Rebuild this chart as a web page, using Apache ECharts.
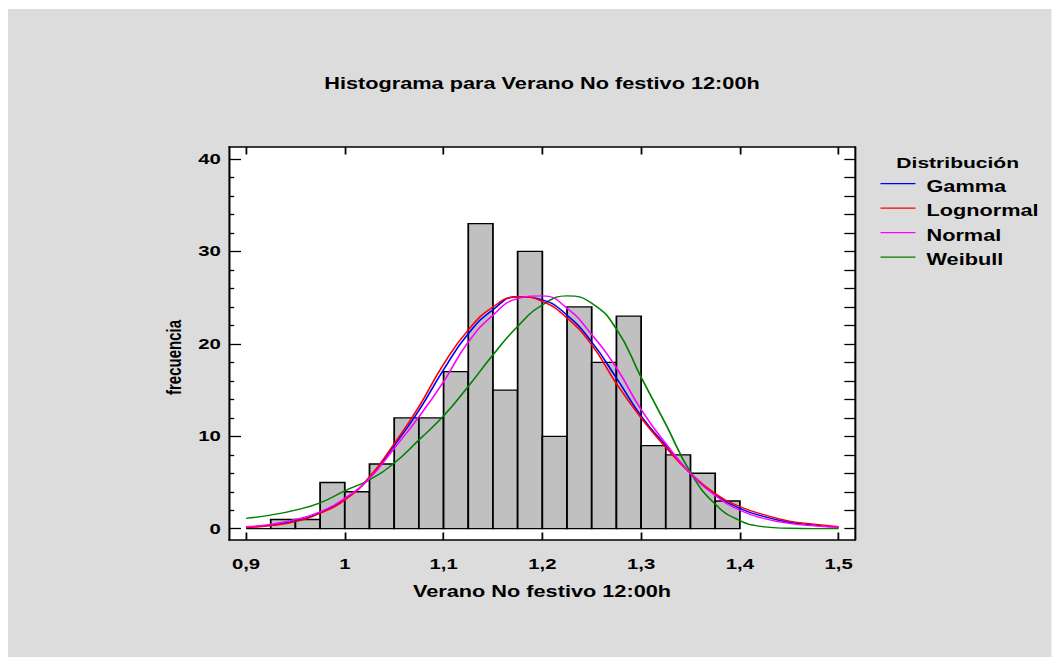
<!DOCTYPE html>
<html>
<head>
<meta charset="utf-8">
<script src="https://cdn.jsdelivr.net/npm/echarts@6/dist/echarts.min.js"></script>
<style>
  html, body { margin: 0; padding: 0; background: #ffffff; overflow: hidden; }
  #wrap { width: 1059px; height: 666px; overflow: hidden; }
  /* chart is laid out on a 780px wide page and stretched to the 1059px window */
  #chart { width: 780px; height: 666px; transform: scaleX(1.3576923); transform-origin: 0 0; }
</style>
</head>
<body>
<div id="wrap"><div id="chart"></div></div>
<script>
// Histogram bins (lower / upper edges) and observed frequencies
const binLo  = [0.900, 0.925, 0.950, 0.975, 1.000, 1.025, 1.050, 1.075, 1.100, 1.125,
                1.150, 1.175, 1.200, 1.225, 1.250, 1.275, 1.300, 1.325, 1.350, 1.375];
const binHi  = [0.925, 0.950, 0.975, 1.000, 1.025, 1.050, 1.075, 1.100, 1.125, 1.150,
                1.175, 1.200, 1.225, 1.250, 1.275, 1.300, 1.325, 1.350, 1.375, 1.400];
const counts = [0, 1, 1, 5, 4, 7, 12, 12, 17, 33, 15, 30, 10, 24, 18, 23, 9, 8, 6, 3];

// Fitted distributions, expressed as expected frequency per bin
const curveX = [0.900, 0.925, 0.950, 0.975, 1.000, 1.025, 1.050, 1.075, 1.100, 1.125,
                1.150, 1.175, 1.200, 1.225, 1.250, 1.275, 1.300, 1.325, 1.350, 1.375,
                1.400, 1.425, 1.450, 1.475, 1.500];
const gammaFit     = [0.18, 0.40, 0.85, 1.75, 3.2, 5.5, 9.0, 12.8, 17.2, 21.1, 23.7, 25.1, 24.75,
                      23.1, 20.2, 16.3, 12.2, 9.0, 6.0, 3.7, 2.2, 1.3, 0.70, 0.40, 0.14];
const lognormalFit = [0.11, 0.33, 0.76, 1.67, 3.1, 5.6, 9.2, 13.2, 17.8, 21.5, 24.0, 25.1, 24.6,
                      22.8, 19.9, 15.7, 12.0, 8.8, 6.0, 3.8, 2.4, 1.5, 0.83, 0.50, 0.22];
const normalFit    = [0.22, 0.47, 1.0, 1.84, 3.3, 5.45, 8.7, 12.1, 15.9, 20.2, 23.1, 24.9, 25.2,
                      23.85, 21.0, 17.4, 12.9, 9.2, 6.0, 3.6, 2.0, 1.1, 0.58, 0.30, 0.14];
const weibullFit   = [1.12, 1.48, 2.02, 2.8, 4.1, 5.3, 7.1, 9.6, 12.2, 15.4, 18.8, 21.9, 24.2,
                      25.2, 24.4, 21.6, 16.4, 11.3, 6.1, 2.65, 0.88, 0.21, 0.05, 0.0, 0.0];

const distNames  = ['Gamma', 'Lognormal', 'Normal', 'Weibull'];
const distColors = ['#0000ff', '#ff0000', '#ff00ff', '#008000'];
const distData   = [gammaFit, lognormalFit, normalFit, weibullFit];

const xTicks = [0.9, 1.0, 1.1, 1.2, 1.3, 1.4, 1.5];
const yMajor = [0, 10, 20, 30, 40];
const yMinor = [2, 4, 6, 8, 12, 14, 16, 18, 22, 24, 26, 28, 32, 34, 36, 38];
const yAll   = [0, 2, 4, 6, 8, 10, 12, 14, 16, 18, 20, 22, 24, 26, 28, 30, 32, 34, 36, 38, 40];

const titleText = 'Histograma para Verano No festivo 12:00h';
const xName = 'Verano No festivo 12:00h';
const yName = 'frecuencia';
const legendTitle = 'Distribución';

const FONT = '"Liberation Sans", Arial, Helvetica, sans-serif';
const X_MIN = 0.8828, X_MAX = 1.5165, Y_MIN = -1.22, Y_MAX = 41.3;
const AX = { color: '#000', width: 1.5 };

const chart = echarts.init(document.getElementById('chart'), null, { renderer: 'svg', width: 780, height: 666 });

const histData = binLo.map((lo, i) => [lo, binHi[i], counts[i]]);

const lineSeries = distNames.map((name, k) => ({
  name: name,
  type: 'line',
  data: curveX.map((x, i) => [x, distData[k][i]]),
  smooth: 0.5,
  showSymbol: false,
  symbol: 'none',
  clip: true,
  z: 3 + (k === 3 ? 0 : k + 1),
  lineStyle: { color: distColors[k], width: 1.3 },
  itemStyle: { color: distColors[k] },
  emphasis: { disabled: true },
  silent: true
}));

// legend drawn at the right of the frame
const legendGraphics = [{
  type: 'text', x: 705.4, y: 162.5, silent: true,
  style: { text: legendTitle, font: 'bold 15.5px ' + FONT, fill: '#000', textAlign: 'center', textVerticalAlign: 'middle' }
}];
distNames.forEach((name, k) => {
  const ly = 183.7 + k * 24.5;
  legendGraphics.push({
    type: 'line', silent: true,
    shape: { x1: 648.5, y1: ly, x2: 674.3, y2: ly },
    style: { stroke: distColors[k], lineWidth: 1.2 }
  });
  legendGraphics.push({
    type: 'text', x: 682.4, y: ly + 2.6, silent: true,
    style: { text: name, font: 'bold 16px ' + FONT, fill: '#000', textAlign: 'left', textVerticalAlign: 'middle' }
  });
});

const option = {
  animation: false,
  backgroundColor: '#ffffff',
  textStyle: { fontFamily: FONT },
  grid: { left: 168.7, right: 150.3, top: 147, bottom: 126, show: true, backgroundColor: '#ffffff', borderWidth: 0 },
  xAxis: [
    {
      type: 'value', position: 'bottom', min: X_MIN, max: X_MAX,
      axisLine: { show: true, onZero: false, lineStyle: AX },
      axisTick: { show: true, inside: true, length: 7.5, customValues: xTicks, lineStyle: { color: '#000', width: 1.3 } },
      axisLabel: {
        show: true, customValues: xTicks, margin: 16,
        fontSize: 15, fontWeight: 'bold', color: '#000', fontFamily: FONT,
        formatter: v => String(+v.toFixed(2)).replace('.', ',')
      },
      splitLine: { show: false }
    },
    {
      type: 'value', position: 'top', min: X_MIN, max: X_MAX,
      axisLine: { show: true, onZero: false, lineStyle: AX },
      axisTick: { show: true, inside: true, length: 7.5, customValues: xTicks, lineStyle: { color: '#000', width: 1.3 } },
      axisLabel: { show: false },
      splitLine: { show: false }
    }
  ],
  yAxis: [
    {
      type: 'value', position: 'left', min: Y_MIN, max: Y_MAX,
      axisLine: { show: true, onZero: false, lineStyle: AX },
      axisTick: { show: true, inside: true, length: 8.8, customValues: yMajor, lineStyle: { color: '#000', width: 1.3 } },
      axisLabel: {
        show: true, customValues: yMajor, margin: 6,
        fontSize: 15, fontWeight: 'bold', color: '#000', fontFamily: FONT,
        padding: [5, 0, 0, 0]
      },
      splitLine: { show: false }
    },
    {
      type: 'value', position: 'left', min: Y_MIN, max: Y_MAX,
      axisLine: { show: false },
      axisTick: { show: true, inside: true, length: 3.8, customValues: yMinor, lineStyle: { color: '#000', width: 1.3 } },
      axisLabel: { show: false },
      splitLine: { show: false }
    },
    {
      type: 'value', position: 'right', min: Y_MIN, max: Y_MAX,
      axisLine: { show: true, onZero: false, lineStyle: AX },
      axisTick: { show: true, inside: true, length: 7.8, customValues: yAll, lineStyle: { color: '#000', width: 1.3 } },
      axisLabel: { show: false },
      splitLine: { show: false }
    }
  ],
  graphic: [
    {
      type: 'rect', z: -100, silent: true,
      shape: { x: 5.9, y: 9, width: 768.5, height: 648 },
      style: { fill: '#dcdcdc' }
    },
    {
      type: 'text', x: 399.2, y: 83.5, silent: true,
      style: { text: titleText, font: 'bold 16px ' + FONT, fill: '#000', textAlign: 'center', textVerticalAlign: 'middle' }
    },
    {
      type: 'text', x: 399.2, y: 591.5, silent: true,
      style: { text: xName, font: 'bold 16px ' + FONT, fill: '#000', textAlign: 'center', textVerticalAlign: 'middle' }
    },
    {
      type: 'text', x: 128.4, y: 357.5, rotation: Math.PI / 2, silent: true,
      style: { text: yName, font: 'bold 15px ' + FONT, fill: '#000', textAlign: 'center', textVerticalAlign: 'middle' }
    }
  ].concat(legendGraphics),
  series: [
    {
      name: 'frecuencia',
      type: 'custom',
      data: histData,
      encode: { x: [0, 1], y: 2 },
      z: 2,
      silent: true,
      renderItem: function (params, api) {
        const p0 = api.coord([api.value(0), 0]);
        const p1 = api.coord([api.value(1), api.value(2)]);
        return {
          type: 'rect',
          shape: { x: p0[0], y: p1[1], width: p1[0] - p0[0], height: p0[1] - p1[1] },
          style: { fill: '#c0c0c0', stroke: '#000', lineWidth: 1.3 }
        };
      }
    }
  ].concat(lineSeries)
};

chart.setOption(option);
</script>
</body>
</html>
